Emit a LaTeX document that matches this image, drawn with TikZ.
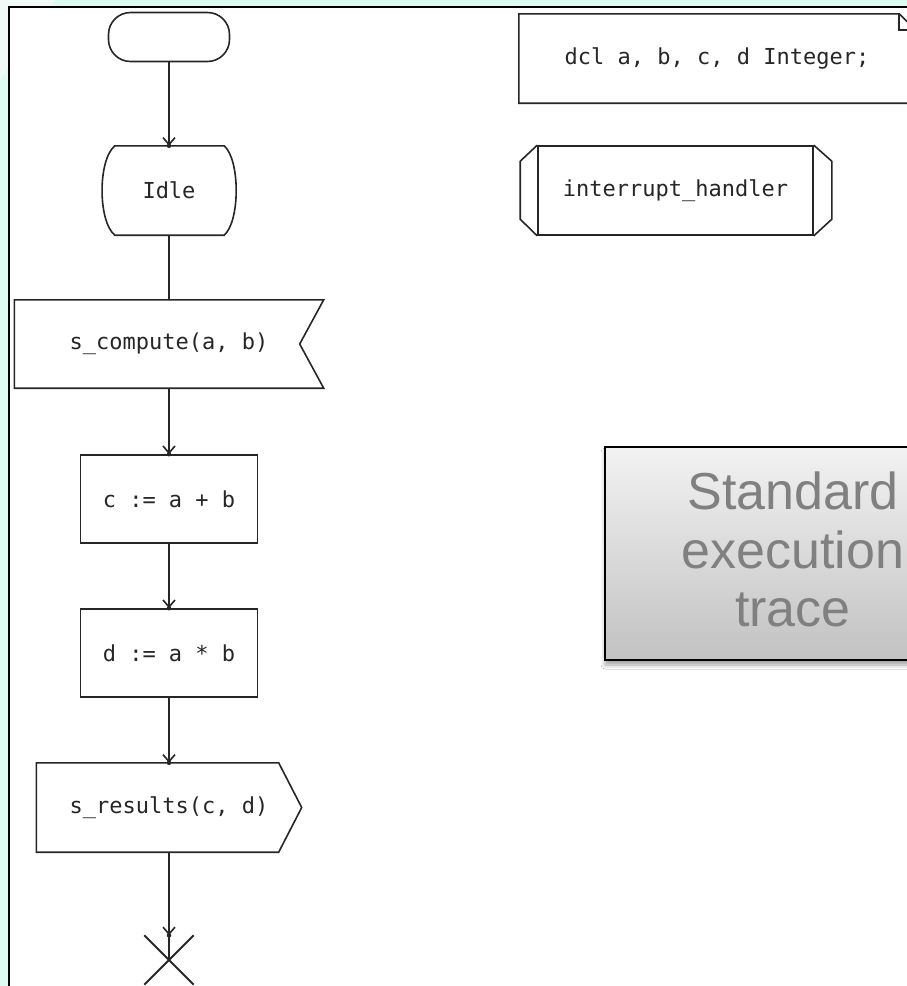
\documentclass[tikz,border=0pt]{standalone}
\usepackage{fontspec}
\newfontfamily\sdlfont{DejaVu Sans Mono}
\newfontfamily\notefont{Liberation Sans}
\usetikzlibrary{arrows.meta,calc,shadows.blur}
\definecolor{bgcyan}{HTML}{DEFCF2}
\definecolor{bgband}{HTML}{F1FAF7}
\definecolor{ink}{HTML}{262626}
\definecolor{notetext}{HTML}{808080}
\definecolor{notetop}{HTML}{F2F2F2}
\definecolor{notebottom}{HTML}{C2C2C2}
\begin{document}
\begin{tikzpicture}[x=1pt,y=-1pt,
  shapebox/.style={inner sep=0pt, font=\sdlfont\fontsize{22}{26}\selectfont, text=ink},
  plainbox/.style={shapebox, draw=ink, line width=1.6pt},
  outline/.style={draw=ink, line width=1.6pt, line join=miter},
  flow/.style={draw=ink, line width=1.8pt},
  flowarrow/.style={flow, -{Straight Barb[length=7pt,width=12pt,line width=1.6pt]}},
  tipdot/.style={fill=ink, circle, inner sep=0pt, minimum size=4.5pt}
]
\useasboundingbox (0,0) rectangle (907,986);
\clip (0,0) rectangle (907,986);

% backdrop and canvas frame
\fill[bgcyan] (0,0) rectangle (907,986);
\fill[bgband] (0,0) -- (55,0) -- (0,80) -- cycle;
\draw[black, line width=2.2pt, fill=white] (9,7) rectangle (930,1010);

% start symbol
\node[plainbox, rounded corners=22pt, minimum width=121pt, minimum height=49pt] (start) at (169,37) {};

% state Idle
\node[shapebox, minimum width=134pt, minimum height=89pt] (idle) at (169,190.5) {Idle};
\draw[outline] ($(idle.north west)+(13,0)$) -- ($(idle.north east)+(-12,0)$)
  .. controls ($(idle.north east)+(4,14)$) and ($(idle.south east)+(4,-14)$) .. ($(idle.south east)+(-12,0)$)
  -- ($(idle.south west)+(13,0)$)
  .. controls ($(idle.south west)+(-4,-14)$) and ($(idle.north west)+(-4,14)$) .. ($(idle.north west)+(13,0)$) -- cycle;

% input signal
\node[shapebox, minimum width=309pt, minimum height=88pt] (sc) at (169,344) {s\_compute(a, b)};
\draw[outline] (sc.north west) -- (sc.north east) -- ($(sc.east)+(-24,0)$) -- (sc.south east) -- (sc.south west) -- cycle;

% tasks
\node[plainbox, minimum width=177pt, minimum height=88pt] (ca) at (169,499) {c := a + b};
\node[plainbox, minimum width=177pt, minimum height=88pt] (da) at (169,653) {d := a * b};

% output signal
\node[shapebox, minimum width=265pt, minimum height=89pt] (sr) at (169,807.5) {s\_results(c, d)};
\draw[outline] (sr.north west) -- ($(sr.north east)+(-23,0)$) -- (sr.east) -- ($(sr.south east)+(-23,0)$) -- (sr.south west) -- cycle;

% stop symbol
\node[inner sep=0pt, minimum size=49pt] (stop) at (169,960) {};
\draw[flow] (stop.north west) -- (stop.south east);
\draw[flow] (stop.north east) -- (stop.south west);

% text symbol with declarations
\node[shapebox, minimum width=396pt, minimum height=89pt] (dcl) at (717,58.5) {dcl a, b, c, d Integer;};
\draw[outline] (dcl.south west) -- (dcl.north west) -- ($(dcl.north east)+(-16,0)$) -- ($(dcl.north east)+(0,16)$) -- (dcl.south east) -- cycle;
\draw[outline] ($(dcl.north east)+(-16,0)$) -- ($(dcl.north east)+(-16,16)$) -- ($(dcl.north east)+(0,16)$);

% procedure symbol
\node[plainbox, minimum width=275pt, minimum height=89pt] (proc) at (675.5,190.5) {interrupt\_handler};
\draw[outline] (proc.north west) -- ++(-17,16) -- ++(0,58) -- (proc.south west);
\draw[outline] (proc.north east) -- ++(18,16) -- ++(0,58) -- (proc.south east);

% callout
\node[draw=black, line width=1.5pt, top color=notetop, bottom color=notebottom,
      minimum width=376pt, minimum height=213pt, align=center, text depth=8pt,
      font=\notefont\fontsize{52}{58.5}\selectfont, text=notetext,
      blur shadow={shadow xshift=0pt, shadow yshift=-5pt, shadow blur radius=4pt, shadow opacity=35}]
      (trace) at (793,553.5) {Standard\\execution\\trace};

% transitions; each arrow ends in a small dot on the target's rim
\draw[flowarrow] (start.south) -- (idle.north);
\draw[flow] (idle.south) -- (sc.north);
\draw[flowarrow] (sc.south) -- (ca.north);
\draw[flowarrow] (ca.south) -- (da.north);
\draw[flowarrow] (da.south) -- (sr.north);
\draw[flowarrow] (sr.south) -- (stop.north);
\draw[flow] (stop.north) -- (stop.center);
\foreach \t in {idle, ca, da, sr, stop}
  \node[tipdot] (\t-dot) at (\t.north) {};
\end{tikzpicture}
\end{document}
